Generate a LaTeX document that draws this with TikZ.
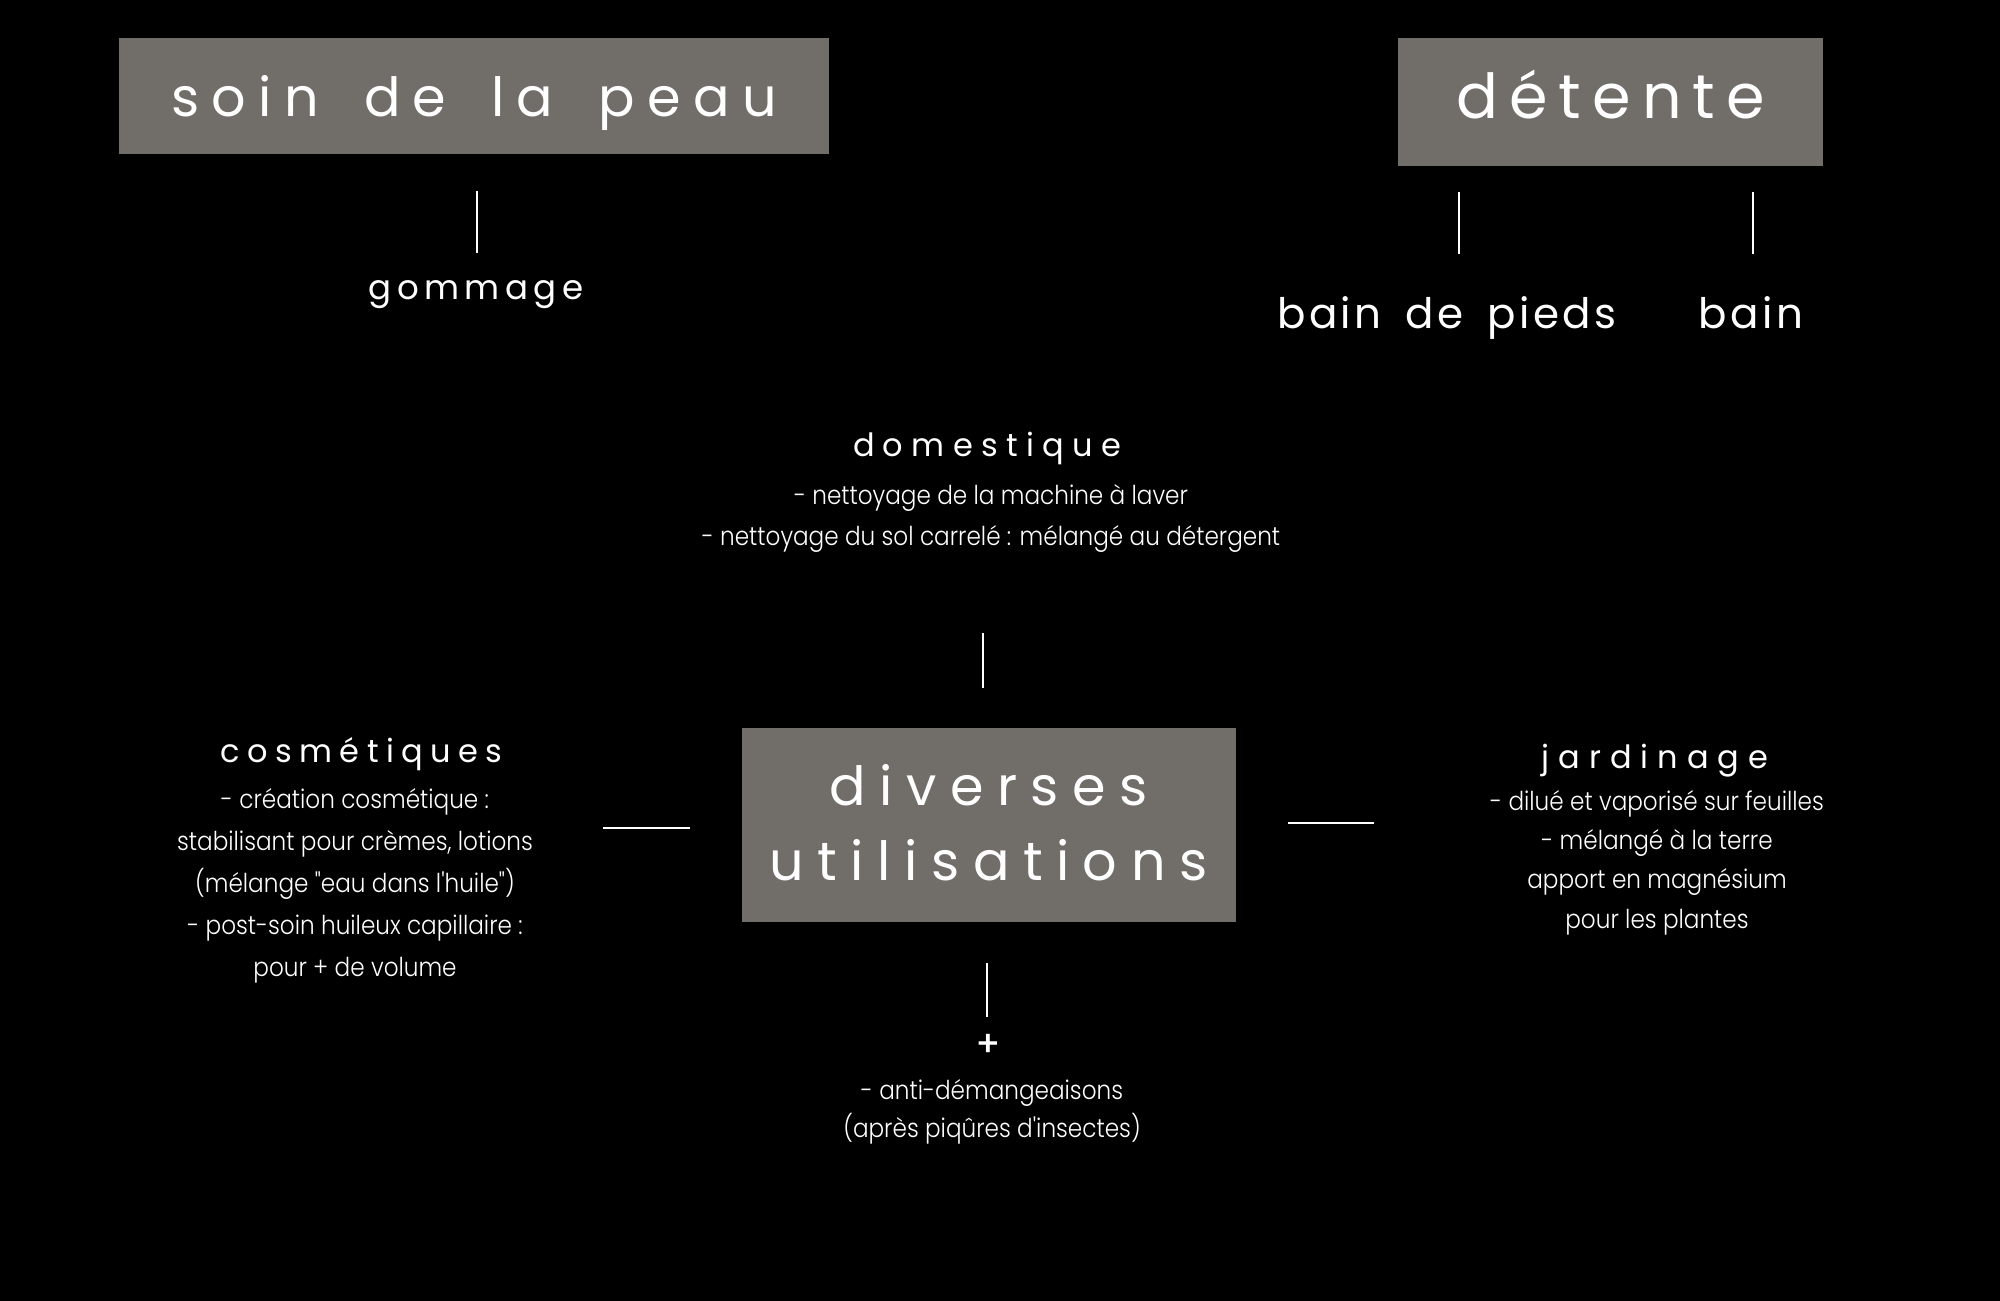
\documentclass[tikz,border=0pt]{standalone}
\usepackage{fontspec}
\setmainfont{Poppins}
\newfontfamily\headfont{Poppins}[WordSpace=1.67]
\newfontfamily\plusfont{Poppins Medium}
\newfontfamily\bodyfont{Poppins Light}[FakeStretch=0.89]
\definecolor{boxgray}{RGB}{113,109,105}
\newcommand{\hf}[2]{\headfont\fontsize{#1}{#1}\selectfont\addfontfeature{LetterSpace=#2}}
\newcommand{\blk}[2]{\renewcommand{\arraystretch}{1}\fontsize{13}{#1}\selectfont\begin{tabular}[t]{@{}c@{}}#2\end{tabular}}
\tikzset{
  x=0.5pt, y=-0.5pt,
  head/.style={text=white, inner sep=0pt, anchor=base},
  body/.style={text=white, inner sep=0pt, anchor=base, font=\bodyfont},
  conn/.style={draw=white, line width=1.4pt},
  graybox/.style={fill=boxgray, draw=none, text=white, inner sep=0pt, text depth=0pt},
}
\begin{document}
\begin{tikzpicture}
\useasboundingbox (0,0) rectangle (2000,1300);
\fill[black] (-20,-20) rectangle (2020,1320);

% top boxes
\node[graybox, minimum width=355pt, minimum height=58pt, text height=21pt,
      font=\hf{27}{23}] (soin) at (474,96) {soin de la peau};
\node[graybox, minimum width=212.5pt, minimum height=64pt, text height=17pt,
      font=\hf{31}{18}] (detente) at (1610.5,102) {détente};

% sub items
\node[head, font=\hf{17}{16}] (gommage) at (476,299) {gommage};
\node[head, font=\hf{21}{8}] (pieds) at (1447,328) {bain de pieds};
\node[head, font=\hf{21}{8}] (bain) at (1751,328) {bain};

\coordinate (g1) at (477,191); \coordinate (g2) at (477,253);
\coordinate (p1) at (1459,192); \coordinate (p2) at (1459,254);
\coordinate (b1) at (1753,192); \coordinate (b2) at (1753,254);
\draw[conn] (g1) -- (g2);
\draw[conn] (p1) -- (p2);
\draw[conn] (b1) -- (b2);

% domestique
\node[head, font=\hf{16}{26}] (dom) at (987,456) {domestique};
\node[body] (domtxt) at (991,504) {\blk{20.5pt}{- nettoyage de la machine à laver\\- nettoyage du sol carrelé : mélangé au détergent}};

% central box
\node[graybox, minimum width=247pt, minimum height=97pt, text height=55.5pt,
      font=\hf{27}{25}] (div) at (988.5,824.5)
  {\renewcommand{\arraystretch}{1}\fontsize{27}{37.5}\selectfont\begin{tabular}[b]{@{}c@{}}diverses\\utilisations\end{tabular}};

\coordinate (d1) at (983,633); \coordinate (d2) at (983,688);
\draw[conn] (d1) -- (d2);
\coordinate (l1) at (603,828); \coordinate (l2) at (690,828);
\draw[conn] (l1) -- (l2);
\coordinate (r1) at (1288,823); \coordinate (r2) at (1374,823);
\draw[conn] (r1) -- (r2);
\coordinate (u1) at (987,963); \coordinate (u2) at (987,1017);
\draw[conn] (u1) -- (u2);

% cosmetiques
\node[head, font=\hf{16}{23}] (cosm) at (361.5,762) {cosmétiques};
\node[body] (cosmtxt) at (355,808) {\blk{21.1pt}{- création cosmétique :\\stabilisant pour crèmes, lotions\\(mélange "eau dans l'huile")\\- post-soin huileux capillaire :\\pour + de volume}};

% jardinage
\node[head, font=\hf{16}{28}] (jard) at (1655,768) {jardinage};
\node[body] (jardtxt) at (1657,810) {\blk{19.7pt}{- dilué et vaporisé sur feuilles\\- mélangé à la terre\\apport en magnésium\\pour les plantes}};

% plus
\node[text=white, inner sep=0pt, font=\plusfont\fontsize{18}{18}\selectfont] (plus) at (988,1045) {+};
\node[body] (plustxt) at (992,1099) {\blk{19pt}{- anti-démangeaisons\\(après piqûres d'insectes)}};
\end{tikzpicture}
\end{document}
